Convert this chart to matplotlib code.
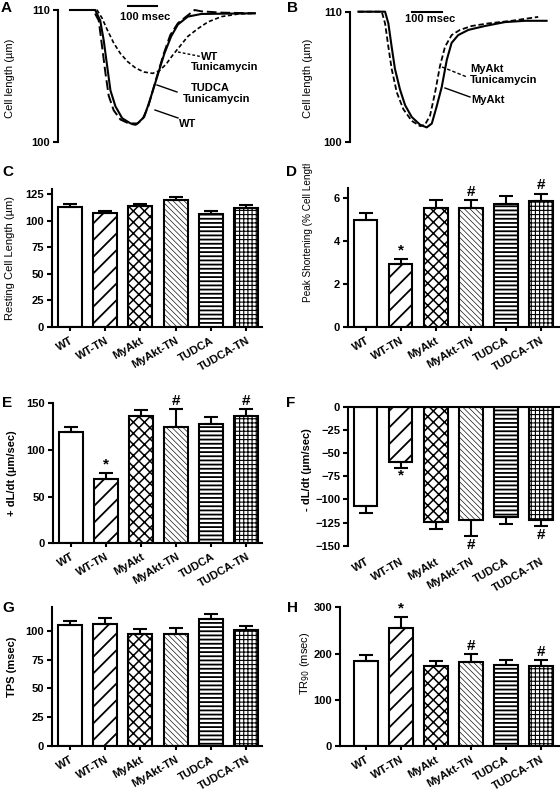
import matplotlib
matplotlib.use("Agg")
import matplotlib.pyplot as plt
import matplotlib.transforms as mtransforms
from matplotlib.lines import Line2D
from matplotlib.patches import Rectangle

W, H = 560, 793
plt.rcParams["font.family"] = ["Liberation Sans", "DejaVu Sans"]
plt.rcParams["hatch.color"] = "black"
plt.rcParams["axes.linewidth"] = 1.5

wt_t = [0, 79, 98, 109, 121, 132, 149, 172, 201, 224, 247, 267, 285, 301, 320, 342, 368, 402, 425, 448, 517, 631]
wt_len = [110, 110, 109.2, 107.3, 105.2, 103.5, 102.4, 101.7, 101.4, 101.3, 101.7, 102.7, 104.1, 105.3,
          106.7, 108.1, 109.0, 109.6, 110.0, 109.9, 109.8, 109.75]
wt_tn_t = [0, 92, 109, 127, 149, 172, 196, 224, 253, 282, 305, 328, 351, 373, 402, 437, 471, 517, 575, 631]
wt_tn_len = [110, 110, 109.4, 108.5, 107.5, 106.7, 106.1, 105.6, 105.3, 105.2, 105.4, 105.9, 106.6, 107.2,
             108.0, 108.6, 109.1, 109.5, 109.7, 109.75]
tudca_tn_t = [0, 86, 103, 115, 127, 138, 155, 178, 207, 230, 253, 270, 287, 305, 322, 345, 368, 402, 448, 631]
tudca_tn_len = [110, 110, 109.2, 107.7, 105.7, 103.9, 102.7, 101.8, 101.4, 101.4, 101.9, 103.0, 104.2, 105.5,
                106.7, 108.0, 108.9, 109.5, 109.7, 109.75]

myakt_t = [0, 89, 100, 111, 122, 139, 156, 178, 206, 228, 245, 261, 278, 295, 311, 333, 367, 422, 489, 556, 628]
myakt_len = [110, 110, 109.1, 107.3, 105.6, 104.0, 102.8, 101.9, 101.3, 101.1, 101.4, 102.7, 104.2, 106.3,
             107.6, 108.2, 108.6, 108.9, 109.2, 109.3, 109.3]
myakt_tn_t = [0, 78, 89, 100, 111, 128, 150, 178, 206, 222, 239, 256, 272, 289, 311, 339, 378, 433, 511, 600]
myakt_tn_len = [110, 110, 109.1, 107.3, 105.6, 103.8, 102.5, 101.6, 101.2, 101.3, 102.0, 103.8, 105.8, 107.3,
                108.2, 108.6, 108.9, 109.1, 109.3, 109.6]

# ---- bar panels
GROUPS = ["WT", "WT-TN", "MyAkt", "MyAkt-TN", "TUDCA", "TUDCA-TN"]
HATCHES = ["", "//", "xxx", "\\" * 6, "----", "++++"]
HATCH_LW = [1.0, 1.3, 1.1, 0.45, 1.3, 0.8]

resting_len = [113, 107, 114, 119, 106, 112]
resting_len_err = [2.5, 2.0, 1.5, 3.0, 3.5, 3.0]
peak_short = [5.0, 2.93, 5.55, 5.55, 5.75, 5.87]
peak_short_err = [0.3, 0.25, 0.35, 0.37, 0.35, 0.35]
peak_short_sig = ["", "*", "", "#", "", "#"]
pos_dldt = [119, 69, 136, 125, 128, 136]
pos_dldt_err = [6, 6, 6.5, 18.5, 7, 8]
pos_dldt_sig = ["", "*", "", "#", "", "#"]
neg_dldt = [-107, -59.5, -124, -122.5, -119, -122.5]
neg_dldt_err = [8, 6, 8, 17.5, 7, 6.5]
neg_dldt_sig = ["", "*", "", "#", "", "#"]
tps = [105, 106, 97, 97, 110, 100.5]
tps_err = [4, 5.5, 4.5, 5.5, 4.5, 4]
tr90 = [184, 256, 174, 182, 176, 174]
tr90_err = [12, 24, 9, 16, 10, 11]
tr90_sig = ["", "*", "", "#", "", "#"]

fig = plt.figure(figsize=(W / 100, H / 100), dpi=100)
fig.patch.set_facecolor("white")


def axes_px(left, top, right, bottom):
    return fig.add_axes([left / W, 1 - bottom / H, (right - left) / W, (bottom - top) / H])


def fig_text(x, y, s, **kw):
    kw.setdefault("fontsize", 8)
    kw.setdefault("fontweight", "bold")
    return fig.text(x / W, 1 - y / H, s, **kw)


def fig_line(x0, y0, x1, y1, **kw):
    fig.add_artist(Line2D([x0 / W, x1 / W], [1 - y0 / H, 1 - y1 / H], transform=fig.transFigure,
                          color="black", **kw))


def trace_axes(ax, xlim):
    ax.set_xlim(*xlim)
    ax.set_ylim(100, 110)
    for s in ["top", "right", "bottom"]:
        ax.spines[s].set_visible(False)
    ax.set_xticks([])
    ax.set_yticks([100, 110])
    ax.tick_params(axis="y", length=3.6, width=1.5, labelsize=8, pad=2)
    plt.setp(ax.get_yticklabels(), fontweight="bold")
    ax.patch.set_alpha(0)


# Panel A
axA = axes_px(58, 10, 262, 142)
trace_axes(axA, (-41, 655))
axA.plot(wt_tn_t, wt_tn_len, color="black", lw=1.2, dashes=(2.5, 1.5), clip_on=False)
axA.plot(wt_t, wt_len, color="black", lw=1.4, dashes=(5, 2), clip_on=False)
axA.plot(tudca_tn_t, tudca_tn_len, color="black", lw=1.5, clip_on=False)
axA.plot([197, 297], [110.33, 110.33], color="black", lw=1.5, clip_on=False)
fig_text(145, 17, "100 msec", ha="center", va="center")
fig_text(210, 57, "WT", ha="center", va="center")
fig_text(225, 67, "Tunicamycin", ha="center", va="center")
fig_line(178, 52, 203, 57, lw=1.0, dashes=(2, 1.5))
fig_text(210, 88, "TUDCA", ha="center", va="center")
fig_text(217, 99, "Tunicamycin", ha="center", va="center")
fig_line(157, 85, 177, 92, lw=1.0)
fig_text(188, 124, "WT", ha="center", va="center")
fig_line(155, 110, 178, 118, lw=1.0)
fig_text(10, 78, "Cell length (\u00b5m)", rotation=90, ha="center", va="center", fontweight="normal")

# Panel B
axB = axes_px(350, 11.7, 555, 141.7)
trace_axes(axB, (-28, 656))
axB.plot(myakt_tn_t, myakt_tn_len, color="black", lw=1.3, dashes=(3, 1.5), clip_on=False)
axB.plot(myakt_t, myakt_len, color="black", lw=1.5, clip_on=False)
axB.plot([178, 278], [109.95, 109.95], color="black", lw=1.5, clip_on=False)
fig_text(430, 19, "100 msec", ha="center", va="center")
fig_text(487, 69, "MyAkt", ha="center", va="center")
fig_text(504, 80, "Tunicamycin", ha="center", va="center")
fig_line(442, 67, 467, 77, lw=1.0, dashes=(2.5, 1.5))
fig_text(488, 100, "MyAkt", ha="center", va="center")
fig_line(445, 88, 470, 97, lw=1.0)
fig_text(308, 78, "Cell length (\u00b5m)", rotation=90, ha="center", va="center", fontweight="normal")


def bar_panel(box, xlim, vals, errs, ylim, yticks, sig=None, negative=False):
    ax = axes_px(*box)
    x = list(range(len(vals)))
    bars = ax.bar(x, vals, width=0.68, color="white", edgecolor="black", linewidth=1.5, zorder=2)
    for b, h, lw in zip(bars, HATCHES, HATCH_LW):
        b.set_hatch(h)
        if hasattr(b, "set_hatch_linewidth"):
            b.set_hatch_linewidth(lw)
    zeros = [0] * len(vals)
    yerr = [errs, zeros] if negative else [zeros, errs]
    ax.errorbar(x, vals, yerr=yerr, fmt="none", ecolor="black", elinewidth=1.5, capsize=5, capthick=1.5,
                zorder=3)
    if sig:
        for i, (v, e, s) in enumerate(zip(vals, errs, sig)):
            if not s:
                continue
            if negative:
                ax.annotate(s, xy=(i, v - e), xytext=(0, -1), textcoords="offset points", ha="center",
                            va="top", fontsize=11, fontweight="bold", annotation_clip=False)
            else:
                ax.annotate(s, xy=(i, v + e), xytext=(0, 1), textcoords="offset points", ha="center",
                            va="bottom", fontsize=11, fontweight="bold", annotation_clip=False)
    ax.set_xlim(*xlim)
    ax.set_ylim(*ylim)
    ax.set_yticks(yticks)
    ax.spines["right"].set_visible(False)
    if negative:
        ax.spines["bottom"].set_visible(False)
    else:
        ax.spines["top"].set_visible(False)
    ax.set_xticks(x)
    ax.set_xticklabels(GROUPS, rotation=30, ha="right", va="top", rotation_mode="anchor",
                       fontsize=8, fontweight="bold")
    shift = mtransforms.ScaledTranslation(3 / 100, 0, fig.dpi_scale_trans)
    for lbl in ax.get_xticklabels():
        lbl.set_transform(lbl.get_transform() + shift)
    ax.tick_params(axis="y", length=3.6, width=1.5, labelsize=8, pad=2)
    plt.setp(ax.get_yticklabels(), fontweight="bold")
    if negative:
        ax.tick_params(axis="x", length=0, pad=8)
    else:
        ax.tick_params(axis="x", length=3, width=1.5, pad=3)
    ax.patch.set_alpha(0)
    return ax


# Panel C
bar_panel((52, 188.7, 262, 327), (-0.5, 5.45), resting_len, resting_len_err, (0, 130), [0, 25, 50, 75, 100, 125])
fig_text(10, 258, "Resting Cell Length (\u00b5m)", rotation=90, ha="center", va="center", fontweight="normal")

# Panel D
bar_panel((348, 187.6, 560, 327), (-0.5, 5.55), peak_short, peak_short_err, (0, 6.5), [0, 2, 4, 6],
          sig=peak_short_sig)
tD = fig_text(308, 229, "Peak Shortening (% Cell Length)", rotation=90, ha="center", va="center",
              fontweight="normal", fontsize=7.2)
clip = Rectangle((0, 0), 1, 1 - 164 / H, transform=fig.transFigure, visible=False)
fig.add_artist(clip)
tD.set_clip_path(clip)

# Panel E
bar_panel((53, 403.3, 262, 543.3), (-0.5, 5.45), pos_dldt, pos_dldt_err, (0, 150), [0, 50, 100, 150],
          sig=pos_dldt_sig)
fig_text(12, 473, "+ dL/dt (\u00b5m/sec)", rotation=90, ha="center", va="center")

# Panel F
bar_panel((348, 407, 560, 545.7), (-0.5, 5.55), neg_dldt, neg_dldt_err, (-150, 0),
          [-150, -125, -100, -75, -50, -25, 0], sig=neg_dldt_sig, negative=True)
fig_text(307, 470, "- dL/dt (\u00b5m/sec)", rotation=90, ha="center", va="center")

# Panel G
bar_panel((52, 606.7, 262, 746), (-0.5, 5.45), tps, tps_err, (0, 121), [0, 25, 50, 75, 100])
fig_text(12, 667, "TPS (msec)", rotation=90, ha="center", va="center")

# Panel H
bar_panel((340, 607.3, 560, 746), (-0.734, 5.55), tr90, tr90_err, (0, 300), [0, 100, 200, 300], sig=tr90_sig)
fig_text(305, 663, "TR$_{90}$ (msec)", rotation=90, ha="center", va="center", fontweight="normal")

# panel letters
for letter, (lx, ly) in zip("ABCDEFGH", [(1, 8), (287, 8), (2, 172), (286, 172), (2, 403), (286, 403),
                                          (2, 608), (287, 608)]):
    fig_text(lx, ly, letter, ha="left", va="center", fontsize=11)

fig.savefig("out.png", dpi=100, facecolor="white")
